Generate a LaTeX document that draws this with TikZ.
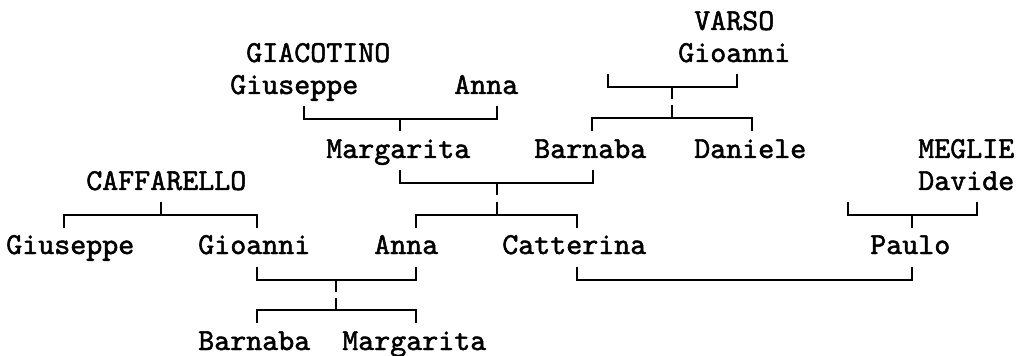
\documentclass[tikz,border=0pt]{standalone}
\usepackage{fontspec}
\newfontfamily\treefont{lmmono10-regular}[Extension=.otf, FakeBold=1.6]
\begin{document}
\begin{tikzpicture}[x=0.75pt,y=-0.75pt,
  person/.style={anchor=base west, inner sep=0pt, font=\fontsize{22.86}{27}\selectfont\treefont},
  conn/.style={line width=1.5pt, line cap=butt, line join=miter}]
\useasboundingbox (0,0) rectangle (1018,356);
% names
\node[person] (varso)   at (694,30)  {VARSO};
\node[person] (giacot)  at (246,62)  {GIACOTINO};
\node[person] (vgioan)  at (678,62)  {Gioanni};
\node[person] (ggius)   at (230,94)  {Giuseppe};
\node[person] (ganna)   at (454,94)  {Anna};
\node[person] (gmarg)   at (326,158) {Margarita};
\node[person] (vbarn)   at (534,158) {Barnaba};
\node[person] (vdan)    at (694,158) {Daniele};
\node[person] (meglie)  at (918,158) {MEGLIE};
\node[person] (caff)    at (86,190)  {CAFFARELLO};
\node[person] (mdav)    at (918,190) {Davide};
\node[person] (cgius)   at (6,254)   {Giuseppe};
\node[person] (cgioan)  at (198,254) {Gioanni};
\node[person] (banna)   at (374,254) {Anna};
\node[person] (bcatt)   at (502,254) {Catterina};
\node[person] (mpaul)   at (870,254) {Paulo};
\node[person] (cbarn)   at (198,350) {Barnaba};
\node[person] (cmarg)   at (342,350) {Margarita};
% junctions
\coordinate (jv1) at (672,87);
\coordinate (jv2) at (672,118);
\coordinate (jg)  at (400,119);
\coordinate (jb1) at (497,183);
\coordinate (jb2) at (497,215);
\coordinate (jc)  at (161,215);
\coordinate (jm)  at (912,215);
\coordinate (jx1) at (336,280);
\coordinate (jx2) at (336,310);
\coordinate (jp)  at (700,280);
% VARSO couple and children
\draw[conn] (608,74) |- (jv1) -| (737,74);
\draw[conn] (jv1) -- ++(0,12);
\draw[conn] (jv2) ++(0,-13) -- (jv2);
\draw[conn] (592,131) |- (jv2) -| (752,131);
% GIACOTINO couple
\draw[conn] (304,106) |- (jg) -| (497,106);
\draw[conn] (jg) -- ++(0,12);
% Margarita + Barnaba
\draw[conn] (400,170) |- (jb1) -| (593,170);
\draw[conn] (jb1) -- ++(0,12);
\draw[conn] (jb2) ++(0,-13) -- (jb2);
\draw[conn] (416,228) |- (jb2) -| (577,228);
% CAFFARELLO
\draw[conn] (jc) ++(0,-13) -- (jc);
\draw[conn] (64,228) |- (jc) -| (257,228);
% MEGLIE couple
\draw[conn] (848,202) |- (jm) -| (977,202);
\draw[conn] (jm) -- ++(0,13);
% Gioanni + Anna
\draw[conn] (257,267) |- (jx1) -| (416,267);
\draw[conn] (jx1) -- ++(0,12);
\draw[conn] (jx2) ++(0,-12) -- (jx2);
\draw[conn] (257,323) |- (jx2) -| (416,323);
% Catterina + Paulo
\draw[conn] (577,267) |- (jp) -| (912,267);
\end{tikzpicture}
\end{document}
